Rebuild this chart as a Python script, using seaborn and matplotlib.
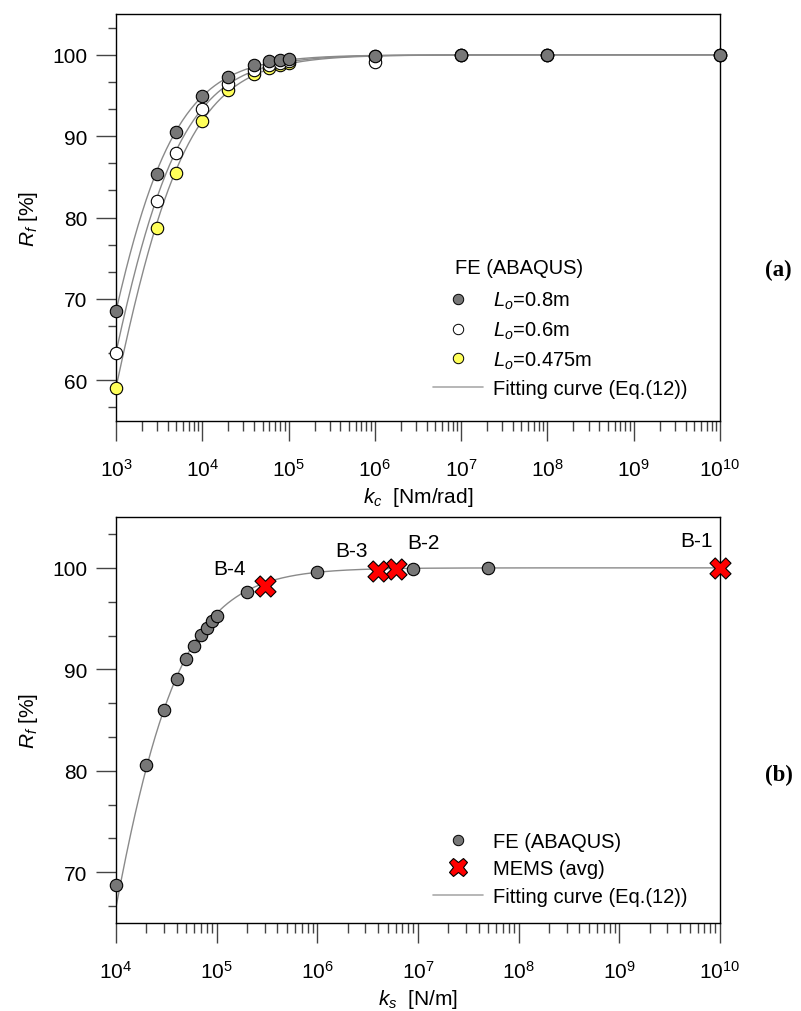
import numpy as np
import pandas as pd
import matplotlib
matplotlib.use("Agg")
import matplotlib.pyplot as plt
import seaborn as sns
from matplotlib.ticker import (FixedLocator, MultipleLocator, NullFormatter,
                               LogFormatterSciNotation)
from matplotlib.lines import Line2D

sns.set_style("ticks")
plt.rcParams["font.family"] = ["Liberation Sans", "DejaVu Sans"]
plt.rcParams["mathtext.fontset"] = "custom"
plt.rcParams["mathtext.rm"] = "Liberation Sans"
plt.rcParams["mathtext.it"] = "Liberation Sans:italic"
plt.rcParams["mathtext.bf"] = "Liberation Sans:bold"
plt.rcParams["text.color"] = "black"
plt.rcParams["axes.labelcolor"] = "black"
plt.rcParams["xtick.labelcolor"] = "black"
plt.rcParams["ytick.labelcolor"] = "black"

# ---- (a) rotational spring stiffness k_c ----
kc = [1e3, 3e3, 5e3, 1e4, 2e4, 4e4, 6e4, 8e4, 1e5, 1e6, 1e7, 1e8, 1e10]
rf_L0_080 = [68.5, 85.4, 90.5, 94.9, 97.3, 98.7, 99.2, 99.4, 99.5, 99.9, 100.0, 100.0, 100.0]
rf_L0_060 = [63.4, 82.1, 87.9, 93.4, 96.4, 98.2, 98.7, 99.0, 99.2, 99.1, 100.0, 100.0, 100.0]
rf_L0_0475 = [59.1, 78.7, 85.5, 91.9, 95.7, 97.7, 98.4, 98.8, 99.0, 99.8, 100.0, 100.0, 100.0]
series_labels_a = ["$L_o$=0.8m", "$L_o$=0.6m", "$L_o$=0.475m"]
# Eq.(12) parameters (k0, n) for each L0
fit_k0_a = [435.0, 547.0, 663.0]
fit_n_a = [0.933, 0.912, 0.895]

# ---- (b) lateral spring stiffness k_s ----
ks_fe = [1e4, 2e4, 3e4, 4e4, 5e4, 6e4, 7e4, 8e4, 9e4, 1e5, 2e5, 1e6, 9e6, 5e7]
rf_fe = [68.7, 80.6, 86.0, 89.0, 91.0, 92.3, 93.4, 94.1, 94.8, 95.3, 97.6, 99.6, 99.9, 100.0]
ks_mems = [1e10, 6e6, 4e6, 3e5]
rf_mems = [100.0, 99.9, 99.7, 98.2]
mems_names = ["B-1", "B-2", "B-3", "B-4"]
fit_k0_b = 5130.0
fit_n_b = 1.03

# decade ranges of the two x axes
decades_a = (3, 10)
decades_b = (4, 10)


def eq12(k, k0, n):
    return 100.0 / (1.0 + (k0 / k) ** n)


GRAY = "#777777"
WHITE = "#ffffff"
YELLOW = "#ffff5a"
CURVE = "#8a8a8a"
TICK_C = "#444444"

fig = plt.figure(figsize=(8.01, 10.12), dpi=100)
ax1 = fig.add_axes([0.1448, 0.583, 0.754, 0.402])
ax2 = fig.add_axes([0.1448, 0.087, 0.754, 0.401])

for ax in (ax1, ax2):
    ax.set_xscale("log")

# ---------- panel (a) ----------
k_line_a = np.logspace(*decades_a, 600)
for k0, n in zip(fit_k0_a, fit_n_a):
    sns.lineplot(x=k_line_a, y=eq12(k_line_a, k0, n), ax=ax1, color=CURVE,
                 lw=1.0, estimator=None, sort=False, zorder=1)

for vals, col, z in [(rf_L0_0475, YELLOW, 3), (rf_L0_060, WHITE, 4), (rf_L0_080, GRAY, 5)]:
    sns.scatterplot(x=kc, y=vals, ax=ax1, color=col, edgecolor="black",
                    linewidth=0.8, s=80, zorder=z, clip_on=False)

# ---------- panel (b) ----------
k_line_b = np.logspace(*decades_b, 600)
sns.lineplot(x=k_line_b, y=eq12(k_line_b, fit_k0_b, fit_n_b), ax=ax2, color=CURVE,
             lw=1.0, estimator=None, sort=False, zorder=1)
sns.scatterplot(x=ks_fe, y=rf_fe, ax=ax2, color=GRAY, edgecolor="black",
                linewidth=0.8, s=80, zorder=4, clip_on=False)
sns.scatterplot(x=ks_mems, y=rf_mems, ax=ax2, marker="X", color="#ff0000",
                edgecolor="black", linewidth=0.8, s=230, zorder=6, clip_on=False)

name_offsets = {"B-1": (-17, 20), "B-2": (20, 19), "B-3": (-19, 15), "B-4": (-25, 13)}
for k, r, name in zip(ks_mems, rf_mems, mems_names):
    dx, dy = name_offsets[name]
    ax2.annotate(name, (k, r), xytext=(dx, dy), textcoords="offset points",
                 ha="center", va="center", fontsize=15)

# ---------- axes styling ----------
ax1.set_xlim(10.0 ** decades_a[0], 10.0 ** decades_a[1])
ax1.set_ylim(55, 105)
ax2.set_xlim(10.0 ** decades_b[0], 10.0 ** decades_b[1])
ax2.set_ylim(65, 105)

for ax, (d0, d1) in ((ax1, decades_a), (ax2, decades_b)):
    majors = [10.0 ** d for d in range(d0, d1 + 1)]
    minors = [m * 10.0 ** d for d in range(d0, d1) for m in range(2, 10)]
    ax.xaxis.set_major_locator(FixedLocator(majors))
    ax.xaxis.set_minor_locator(FixedLocator(minors))
    ax.xaxis.set_major_formatter(LogFormatterSciNotation())
    ax.xaxis.set_minor_formatter(NullFormatter())
    ax.yaxis.set_major_locator(MultipleLocator(10))
    ax.yaxis.set_minor_locator(MultipleLocator(10 / 3))
    ax.tick_params(axis="both", which="major", direction="out", length=14.4,
                   width=1.0, color=TICK_C, labelsize=15, pad=6)
    ax.tick_params(axis="x", which="minor", direction="out", length=7.5,
                   width=1.0, color=TICK_C)
    ax.tick_params(axis="y", which="minor", direction="out", length=6,
                   width=1.0, color=TICK_C)
    ax.tick_params(axis="x", which="major", pad=12)
    for sp in ax.spines.values():
        sp.set_visible(True)
        sp.set_color("black")
        sp.set_linewidth(1.0)
    ax.set_ylabel("$R_f$ [%]", fontsize=15, labelpad=9)

ax1.set_xlabel("$k_c$  [Nm/rad]", fontsize=15, labelpad=4)
ax2.set_xlabel("$k_s$  [N/m]", fontsize=15, labelpad=4)

# ---------- legends ----------
leg_kw = dict(frameon=False, fontsize=14.5, handlelength=2.5, handletextpad=0.5,
              borderpad=0, borderaxespad=0, labelspacing=0.42, loc="upper left")

handles_a = [
    Line2D([], [], ls="none", marker="o", ms=7.5, mfc=GRAY, mec="black", mew=0.7),
    Line2D([], [], ls="none", marker="o", ms=7.5, mfc=WHITE, mec="black", mew=0.7),
    Line2D([], [], ls="none", marker="o", ms=7.5, mfc=YELLOW, mec="black", mew=0.7),
    Line2D([], [], color="#aaaaaa", lw=1.2),
]
ax1.legend(handles_a, series_labels_a + ["Fitting curve (Eq.(12))"],
           bbox_to_anchor=(0.525, 0.322), **leg_kw)
ax1.text(0.561, 0.378, "FE (ABAQUS)", transform=ax1.transAxes,
         ha="left", va="center", fontsize=14.5)

handles_b = [
    Line2D([], [], ls="none", marker="o", ms=7.5, mfc=GRAY, mec="black", mew=0.7),
    Line2D([], [], ls="none", marker="X", ms=13, mfc="#ff0000", mec="black", mew=0.8),
    Line2D([], [], color="#aaaaaa", lw=1.2),
]
ax2.legend(handles_b, ["FE (ABAQUS)", "MEMS (avg)", "Fitting curve (Eq.(12))"],
           bbox_to_anchor=(0.525, 0.225), **leg_kw)

# panel tags
fig.text(0.955, 1 - 270 / 1012, "(a)", fontsize=16.5, fontweight="bold",
         family="Liberation Serif", ha="left", va="center")
fig.text(0.955, 1 - 775 / 1012, "(b)", fontsize=16.5, fontweight="bold",
         family="Liberation Serif", ha="left", va="center")

fig.savefig("out.png", dpi=100)
